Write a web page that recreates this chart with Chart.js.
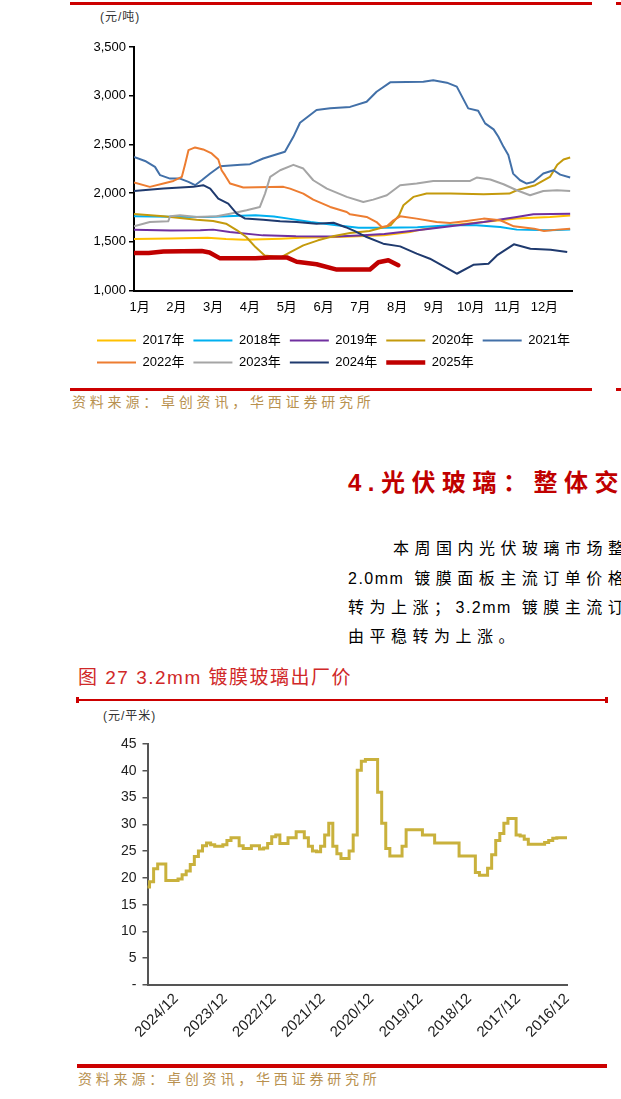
<!DOCTYPE html>
<html><head><meta charset="utf-8">
<script src="https://cdn.jsdelivr.net/npm/chart.js@4.4.1/dist/chart.umd.min.js"></script>
<style>
html,body{margin:0;padding:0;background:#fff;}
body{width:621px;height:1099px;overflow:hidden;position:relative;font-family:"Liberation Sans","Noto Sans CJK SC",sans-serif;color:#000;}
.abs{position:absolute;white-space:nowrap;}
.rule{position:absolute;background:#cc0000;}
.unit{font-size:12px;color:#333;letter-spacing:1px;line-height:16px;}
.src{font-size:14px;letter-spacing:3.8px;color:#b8914f;line-height:20px;}
.para{font-size:16px;letter-spacing:5.5px;line-height:20px;}
.lat{letter-spacing:1.5px;}
</style></head><body>

<div class="rule" style="left:70px;top:2px;width:522px;height:3px"></div>
<div class="rule" style="left:616px;top:2px;width:5px;height:3px"></div>
<div class="abs unit" style="left:100px;top:9px">(元/吨)</div>
<div class="abs" style="left:60px;top:25px;width:560px;height:356px"><canvas id="c1" width="560" height="356"></canvas></div>
<div class="rule" style="left:70px;top:388px;width:522px;height:3px"></div>
<div class="rule" style="left:616px;top:388px;width:5px;height:3px"></div>
<div class="abs src" style="left:72px;top:392px">资料来源：卓创资讯，华西证券研究所</div>

<div class="abs" style="left:348px;top:469px;font-size:24px;font-weight:bold;color:#c00000;letter-spacing:6.5px;line-height:28px">4.光伏玻璃：整体交投</div>

<div class="abs para" style="left:393px;top:539px">本周国内光伏玻璃市场整体</div>
<div class="abs para" style="left:348px;top:569px"><span class="lat">2.0mm</span> 镀膜面板主流订单价格</div>
<div class="abs para" style="left:348px;top:598px">转为上涨；<span class="lat">3.2mm</span> 镀膜主流订单</div>
<div class="abs para" style="left:348px;top:627px">由平稳转为上涨。</div>

<div class="abs" style="left:78px;top:667px;font-size:19px;color:#d02828;line-height:22px;letter-spacing:1.5px">图 27 3.2mm 镀膜玻璃出厂价</div>
<div class="rule" style="left:77px;top:699px;width:530px;height:2px"></div>
<div class="rule" style="left:76px;top:697px;width:3px;height:6px"></div>
<div class="rule" style="left:605px;top:697px;width:3px;height:6px"></div>
<div class="abs unit" style="left:103px;top:708px">(元/平米)</div>
<div class="abs" style="left:60px;top:725px;width:560px;height:335px"><canvas id="c2" width="560" height="335"></canvas></div>
<div class="rule" style="left:77px;top:1064px;width:530px;height:4px"></div>
<div class="abs src" style="left:78px;top:1069px">资料来源：卓创资讯，华西证券研究所</div>

<script>
// ---------- Chart 1: weekly price by year (x = month position, 0 = start of 1月) ----------
const monthLabels = ['1月','2月','3月','4月','5月','6月','7月','8月','9月','10月','11月','12月'];
const yearLabels = ['2017年','2018年','2019年','2020年','2021年','2022年','2023年','2024年','2025年'];
const yearColors = ['#ffc000','#00b0f0','#7030a0','#c49a0c','#4270a8','#ed7d31','#a5a5a5','#1f3a6e','#c00000'];

const y2017 = [[0,1530],[1,1535],[2,1542],[2.5,1528],[3,1522],[3.5,1525],[4,1532],[4.5,1542],[5.5,1549],[6.1,1556],[6.8,1566],[7.5,1600],[7.7,1618],[8.6,1669],[9.5,1703],[10.4,1738],[11.3,1755],[11.85,1770]];
const y2018 = [[0,1762],[1,1758],[2,1755],[2.7,1765],[3.3,1772],[3.8,1760],[4.2,1738],[4.8,1703],[5.5,1669],[6.1,1645],[6.8,1645],[7.7,1650],[8.6,1669],[9.3,1669],[9.95,1652],[10.4,1625],[11.3,1618],[11.85,1625]];
const y2019 = [[0,1625],[1,1615],[1.8,1618],[2.15,1625],[2.6,1601],[3.5,1566],[4.4,1556],[5.5,1555],[6.1,1565],[6.8,1580],[7.7,1618],[8.6,1659],[9.5,1703],[10.4,1755],[10.85,1782],[11.85,1789]];
const y2020 = [[0,1785],[0.8,1762],[1.7,1727],[2.15,1714],[2.5,1686],[2.8,1618],[3.05,1549],[3.3,1446],[3.55,1360],[3.8,1350],[4.0,1343],[4.25,1395],[4.6,1463],[5.0,1515],[5.4,1556],[5.87,1590],[6.4,1611],[6.97,1669],[7.2,1772],[7.32,1875],[7.59,1961],[7.95,1995],[8.6,1995],[9.5,1988],[10.2,1995],[10.4,2029],[10.9,2081],[11.3,2166],[11.5,2290],[11.67,2345],[11.85,2366]];
const y2021 = [[0,2370],[0.3,2330],[0.57,2269],[0.71,2184],[0.98,2149],[1.25,2149],[1.48,2115],[1.66,2081],[1.84,2132],[2.07,2201],[2.34,2276],[2.9,2290],[3.15,2297],[3.51,2355],[4.1,2424],[4.33,2578],[4.51,2722],[4.96,2853],[5.33,2870],[5.87,2885],[6.32,2938],[6.59,3041],[6.96,3137],[7.86,3144],[8.13,3158],[8.5,3134],[8.77,3093],[9.08,2870],[9.35,2846],[9.54,2716],[9.77,2654],[9.9,2578],[10.04,2475],[10.17,2390],[10.3,2200],[10.49,2132],[10.67,2098],[10.85,2115],[11.12,2201],[11.4,2235],[11.58,2190],[11.85,2160]];
const y2022 = [[0,2110],[0.43,2064],[0.8,2098],[1.07,2125],[1.3,2167],[1.39,2300],[1.48,2441],[1.66,2469],[1.88,2448],[2.11,2407],[2.29,2345],[2.38,2235],[2.47,2184],[2.61,2098],[2.97,2057],[4.06,2064],[4.24,2046],[4.6,1995],[4.87,1933],[5.33,1858],[5.78,1806],[5.87,1782],[6.32,1755],[6.59,1703],[6.73,1652],[6.87,1659],[7.05,1721],[7.23,1762],[7.68,1738],[8.22,1703],[8.59,1693],[9.04,1714],[9.5,1738],[9.95,1721],[10.32,1659],[10.87,1635],[11.14,1611],[11.5,1625],[11.85,1635]];
const y2023 = [[0,1660],[0.43,1703],[0.93,1710],[0.98,1762],[1.25,1772],[1.7,1755],[2.25,1762],[2.61,1789],[3.06,1823],[3.42,1858],[3.56,1995],[3.7,2167],[3.97,2235],[4.33,2290],[4.6,2252],[4.87,2132],[5.24,2046],[5.78,1961],[6.23,1909],[6.5,1933],[6.87,1978],[7.23,2081],[7.68,2098],[8.13,2125],[9.13,2125],[9.31,2160],[9.68,2139],[10.04,2091],[10.4,2029],[10.76,1978],[11.12,2022],[11.49,2029],[11.85,2022]];
const y2024 = [[0,2022],[0.8,2046],[1.61,2064],[1.88,2081],[2.07,2046],[2.29,1944],[2.56,1892],[2.79,1789],[3.02,1738],[3.51,1727],[3.97,1710],[4.42,1703],[4.96,1686],[5.42,1695],[5.75,1650],[6.0,1610],[6.32,1549],[6.77,1481],[7.23,1453],[7.68,1378],[8.04,1326],[8.77,1172],[9.22,1264],[9.63,1275],[9.86,1360],[10.32,1474],[10.77,1429],[11.32,1419],[11.77,1395]];
const y2025 = [[0,1385],[0.4,1385],[0.8,1400],[1.84,1405],[2.05,1390],[2.34,1330],[3.3,1330],[3.7,1340],[4.15,1340],[4.42,1295],[4.96,1270],[5.51,1215],[6.41,1215],[6.64,1290],[6.91,1310],[7.18,1260]];
const yearSeries = [y2017,y2018,y2019,y2020,y2021,y2022,y2023,y2024,y2025];
const monthTickPos = [0.15,1.15,2.15,3.15,4.15,5.15,6.15,7.15,8.15,9.15,10.15,11.15];
const yTicks1 = [1000,1500,2000,2500,3000,3500];

// ---------- Chart 2: 3.2mm coated glass price (latest month on the left) ----------
const glassDates = [];
for (let y = 2025, m = 7; y > 2016 || (y === 2016 && m >= 12); ) {
  glassDates.push(y + '/' + String(m).padStart(2,'0'));
  m--; if (m === 0) { m = 12; y--; }
}
const glassPrice = [18.3,19.3,21.7,22.6,22.6,19.5,19.5,19.5,19.8,20.6,21.3,22.5,24.0,25.0,26.0,26.5,26.2,25.9,25.9,26.2,
  27.0,27.5,27.5,26.0,25.5,25.5,26.0,26.0,25.4,25.6,26.4,27.7,28.0,26.4,26.4,27.5,27.5,28.6,28.6,27.5,
  25.9,25.0,24.9,25.9,28.0,30.2,25.9,24.5,23.6,23.6,25.0,28.0,40.1,41.8,42.1,42.1,42.1,36.0,30.2,25.5,
  24.1,24.1,24.1,25.9,29.0,29.0,29.0,29.0,28.0,28.0,28.0,26.5,26.5,26.5,26.5,26.5,26.5,24.1,24.1,24.1,
  24.1,21.0,20.5,20.5,21.8,24.3,27.0,28.3,30.2,31.1,31.1,28.0,27.8,27.2,26.3,26.3,26.3,26.3,26.6,27.0,
  27.4,27.5,27.5,27.5];
const yTicks2 = [0,5,10,15,20,25,30,35,40,45];

Chart.defaults.font.family = '"Liberation Sans","Noto Sans CJK SC",sans-serif';
Chart.defaults.color = '#000';

new Chart(document.getElementById('c1'), {
  type: 'line',
  data: {
    datasets: yearSeries.map((s, i) => ({
      label: yearLabels[i],
      data: s.map(p => ({x: p[0], y: p[1]})),
      borderColor: yearColors[i],
      backgroundColor: yearColors[i],
      borderWidth: i === 8 ? 4.5 : 2,
      borderCapStyle: i === 8 ? 'round' : 'butt',
      borderJoinStyle: 'round',
      pointRadius: 0,
      tension: 0,
      order: 8 - i
    }))
  },
  options: {
    responsive: false, animation: false, devicePixelRatio: 1,
    layout: {padding: {left: 28, right: 5, top: 22, bottom: 2}},
    plugins: {
      tooltip: {enabled: false},
      legend: {
        position: 'bottom', align: 'start',
        labels: {
          usePointStyle: true, pointStyle: 'line', pointStyleWidth: 39, boxHeight: 13,
          padding: 9, color: '#000', font: {size: 13},
          sort: (a, b) => a.datasetIndex - b.datasetIndex
        }
      }
    },
    scales: {
      x: {
        type: 'linear', min: 0, max: 11.9,
        afterBuildTicks: s => { s.ticks = monthTickPos.map(v => ({value: v})); },
        afterFit: s => { s.height = 34.5; },
        ticks: {callback: (v, i) => monthLabels[i], font: {size: 13}, color: '#000', padding: 9, autoSkip: false, maxRotation: 0},
        grid: {display: false, drawTicks: false},
        border: {display: true, color: '#000', width: 2}
      },
      y: {
        min: 1000, max: 3500,
        afterBuildTicks: s => { s.ticks = yTicks1.map(v => ({value: v})); },
        afterFit: s => { s.width = 46; },
        ticks: {callback: v => v.toLocaleString('en-US'), font: {size: 13}, color: '#000', padding: 3},
        grid: {display: true, drawOnChartArea: false, drawTicks: true, tickLength: 5, color: '#000', lineWidth: 1.5},
        border: {display: true, color: '#000', width: 2}
      },
      yR: {
        position: 'right', display: true,
        afterFit: s => { s.width = 43; },
        ticks: {display: false}, grid: {display: false}, border: {display: false}
      }
    }
  }
});

new Chart(document.getElementById('c2'), {
  type: 'line',
  data: {
    labels: glassDates,
    datasets: [{
      label: '3.2mm镀膜玻璃出厂价',
      data: glassPrice,
      borderColor: '#c9b13c', backgroundColor: '#c9b13c',
      borderWidth: 3, pointRadius: 0, tension: 0, stepped: 'middle', borderJoinStyle: 'miter'
    }]
  },
  options: {
    responsive: false, animation: false, devicePixelRatio: 1,
    layout: {padding: {left: 10, right: 53, top: 19, bottom: 0}},
    plugins: {legend: {display: false}, tooltip: {enabled: false}},
    scales: {
      x: {
        type: 'category', offset: false,
        afterFit: s => { s.height = 75; },
        ticks: {
          autoSkip: false, minRotation: 45, maxRotation: 45, padding: 5,
          font: {size: 15}, color: '#222',
          callback: function(v, i) { const l = glassDates[i]; return l.endsWith('/12') ? l : ''; }
        },
        grid: {display: false, drawTicks: false},
        border: {display: true, color: '#555', width: 2}
      },
      y: {
        min: 0, max: 45,
        afterBuildTicks: s => { s.ticks = yTicks2.map(v => ({value: v})); },
        afterFit: s => { s.width = 77.5; },
        ticks: {callback: v => v === 0 ? '-' : String(v), font: {size: 14}, color: '#222', padding: 6},
        grid: {display: true, drawOnChartArea: false, drawTicks: true, tickLength: 5, color: '#555', lineWidth: 1.5},
        border: {display: true, color: '#555', width: 2}
      }
    }
  }
});
</script>
</body></html>
